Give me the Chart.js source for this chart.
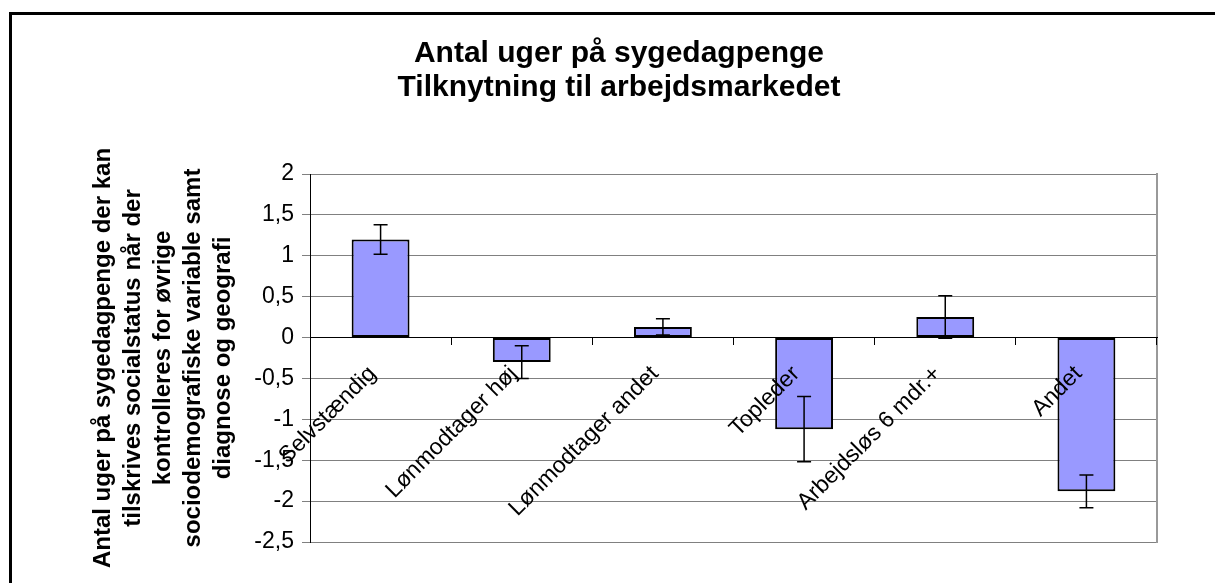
<!DOCTYPE html>
<html>
<head>
<meta charset="utf-8">
<script src="https://cdn.jsdelivr.net/npm/chart.js@4"></script>
<style>
  html, body { margin: 0; padding: 0; background: #fff; overflow: hidden; }
  #frame { position: absolute; left: 9px; top: 12px; width: 2000px; height: 2000px; border: 3px solid #000; }
  #chart { position: absolute; left: 0; top: 0; }
</style>
</head>
<body>
<div id="frame"></div>
<canvas id="chart" width="1215" height="583"></canvas>
<script>
const categories = ['Selvstændig', 'Lønmodtager høj', 'Lønmodtager andet', 'Topleder', 'Arbejdsløs 6 mdr.+', 'Andet'];
const weeks = [1.2, -0.3, 0.13, -1.12, 0.25, -1.88];
const errors = [0.18, 0.2, 0.1, 0.4, 0.26, 0.2];
const titleLines = ['Antal uger på sygedagpenge', 'Tilknytning til arbejdsmarkedet'];
const yTitleLines = [
    'Antal uger på sygedagpenge der kan',
    'tilskrives socialstatus når der',
    'kontrolleres for øvrige',
    'sociodemografiske variable samt',
    'diagnose og geografi'
];

const FONT = "'Liberation Sans', Arial, sans-serif";
Chart.defaults.color = '#000';
Chart.defaults.font.family = FONT;

// error bars drawn from the y scale
const errorBars = {
    id: 'errorBars',
    afterDatasetsDraw(chart) {
        const { ctx, scales: { y } } = chart;
        const meta = chart.getDatasetMeta(0);
        ctx.save();
        ctx.strokeStyle = '#000';
        ctx.lineWidth = 1.5;
        meta.data.forEach((bar, i) => {
            const top = y.getPixelForValue(weeks[i] + errors[i]);
            const bottom = y.getPixelForValue(weeks[i] - errors[i]);
            const cap = 7;
            ctx.beginPath();
            ctx.moveTo(bar.x, top);
            ctx.lineTo(bar.x, bottom);
            ctx.moveTo(bar.x - cap, top);
            ctx.lineTo(bar.x + cap, top);
            ctx.moveTo(bar.x - cap, bottom);
            ctx.lineTo(bar.x + cap, bottom);
            ctx.stroke();
        });
        ctx.restore();
    }
};

new Chart(document.getElementById('chart'), {
    type: 'bar',
    data: {
        labels: categories,
        datasets: [{
            data: weeks,
            backgroundColor: '#9999FF',
            borderColor: '#000',
            borderWidth: 2,
            borderSkipped: false,
            categoryPercentage: 1,
            barPercentage: 0.41
        }]
    },
    options: {
        responsive: false,
        animation: false,
        devicePixelRatio: 1,
        layout: {
            padding: { left: 23, right: 0, top: 0, bottom: 41 }
        },
        plugins: {
            legend: { display: false },
            tooltip: { enabled: false },
            title: {
                display: true,
                text: titleLines,
                color: '#000',
                font: { size: 30, weight: 'bold', lineHeight: 1.15 },
                padding: { top: 36, bottom: 69 }
            }
        },
        scales: {
            x: {
                position: { y: 0 },
                grid: {
                    drawOnChartArea: false,
                    drawTicks: true,
                    tickLength: 7,
                    color: '#000',
                    offset: true,
                    z: 1
                },
                border: { display: true, color: '#000', width: 1, z: 1 },
                ticks: {
                    minRotation: 45,
                    maxRotation: 45,
                    autoSkip: false,
                    padding: 16,
                    labelOffset: -8,
                    font: { size: 23 },
                    z: 1
                },
                afterFit(scale) { scale.height = 0; }
            },
            y: {
                min: -2.5,
                max: 2,
                ticks: {
                    stepSize: 0.5,
                    padding: 8,
                    font: { size: 23 },
                    callback: v => String(v).replace('.', ',')
                },
                grid: {
                    color: '#808080',
                    lineWidth: 1,
                    tickLength: 8
                },
                border: { display: true, color: '#000', width: 1 },
                title: {
                    display: true,
                    text: yTitleLines,
                    font: { size: 24, weight: 'bold', lineHeight: 1.25 },
                    padding: { top: 65, bottom: 0 }
                },
                afterFit(scale) { scale.width = 287; }
            },
            yRight: {
                position: 'right',
                min: -2.5,
                max: 2,
                ticks: { display: false },
                grid: { display: false },
                border: { display: true, color: '#999', width: 2 },
                afterFit(scale) { scale.width = 58; }
            }
        }
    },
    plugins: [errorBars]
});
</script>
</body>
</html>
